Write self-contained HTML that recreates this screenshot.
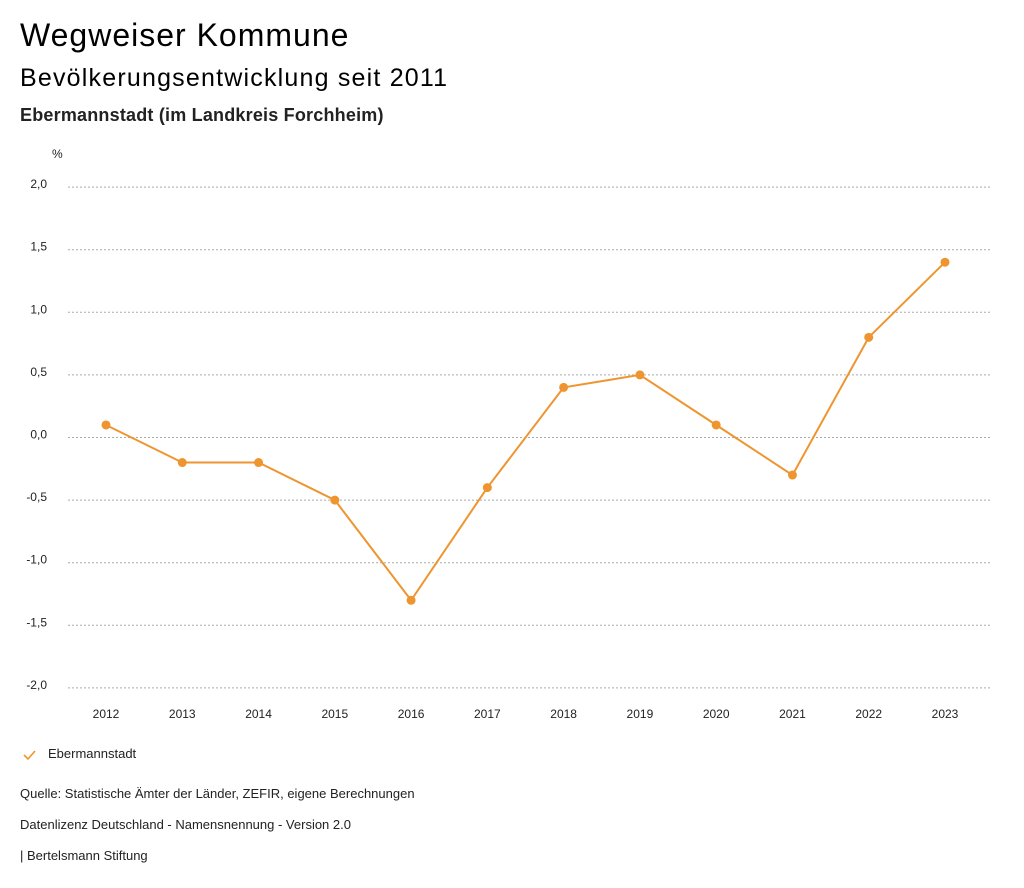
<!DOCTYPE html>
<html><head><meta charset="utf-8"><style>
body{margin:0;width:1024px;height:888px;background:#fff;font-family:"Liberation Sans",sans-serif;color:#000;position:relative;overflow:hidden}
.t{position:absolute;left:20px;white-space:nowrap}
</style></head><body>
<div class="t" style="top:17px;font-size:32px;letter-spacing:1px">Wegweiser Kommune</div>
<div class="t" style="top:64px;font-size:25px;letter-spacing:1.2px">Bevölkerungsentwicklung seit 2011</div>
<div class="t" style="top:105px;font-size:18px;font-weight:bold;color:#222;letter-spacing:0.2px">Ebermannstadt (im Landkreis Forchheim)</div>
<svg id="chart" width="1024" height="740" style="position:absolute;left:0;top:0"></svg>
<div class="t" style="top:786px;font-size:13px;color:#222">Quelle: Statistische Ämter der Länder, ZEFIR, eigene Berechnungen</div>
<div class="t" style="top:817px;font-size:13px;color:#222">Datenlizenz Deutschland - Namensnennung - Version 2.0</div>
<div class="t" style="top:848px;font-size:13px;color:#222">| Bertelsmann Stiftung</div>
<div style="position:absolute;left:22px;top:746px;font-size:13px;color:#222;white-space:nowrap">
<svg width="16" height="14" style="vertical-align:middle"><polyline points="2,7 6,11 13,3" fill="none" stroke="#ee9530" stroke-width="1.6"/></svg><span style="margin-left:10px">Ebermannstadt</span></div>
<script>
const years=["2012","2013","2014","2015","2016","2017","2018","2019","2020","2021","2022","2023"];
const values=[0.1,-0.2,-0.2,-0.5,-1.3,-0.4,0.4,0.5,0.1,-0.3,0.8,1.4];
const yTicks=[2,1.5,1,0.5,0,-0.5,-1,-1.5,-2];
const svg=document.getElementById('chart');
const NS='http://www.w3.org/2000/svg';
const x=i=>106+i*(945-106)/11;
const y=v=>437.5-v*125.2;
function mk(t,a){const e=document.createElementNS(NS,t);for(const k in a)e.setAttribute(k,a[k]);svg.appendChild(e);return e;}
const u=mk('text',{x:52,y:158,'font-size':12,fill:'#222'});u.textContent='%';


yTicks.forEach(v=>{
const l=mk('line',{x1:68,x2:990,y1:y(v),y2:y(v),stroke:'#aaa','stroke-dasharray':'2,2','stroke-width':1});


const t=mk('text',{x:47,y:y(v)+1,'font-size':12,fill:'#222','text-anchor':'end'});
t.textContent=v.toFixed(1).replace('.',',');


});
years.forEach((yr,i)=>{
const t=mk('text',{x:x(i),y:718,'font-size':12,fill:'#222','text-anchor':'middle'});
t.textContent=yr;


});
const p=mk('polyline',{points:values.map((v,i)=>x(i)+','+y(v)).join(' '),fill:'none',stroke:'#ee9530','stroke-width':2});


values.forEach((v,i)=>{
const c=mk('circle',{cx:x(i),cy:y(v),r:4.5,fill:'#ee9530'});


});
</script>
</body></html>
